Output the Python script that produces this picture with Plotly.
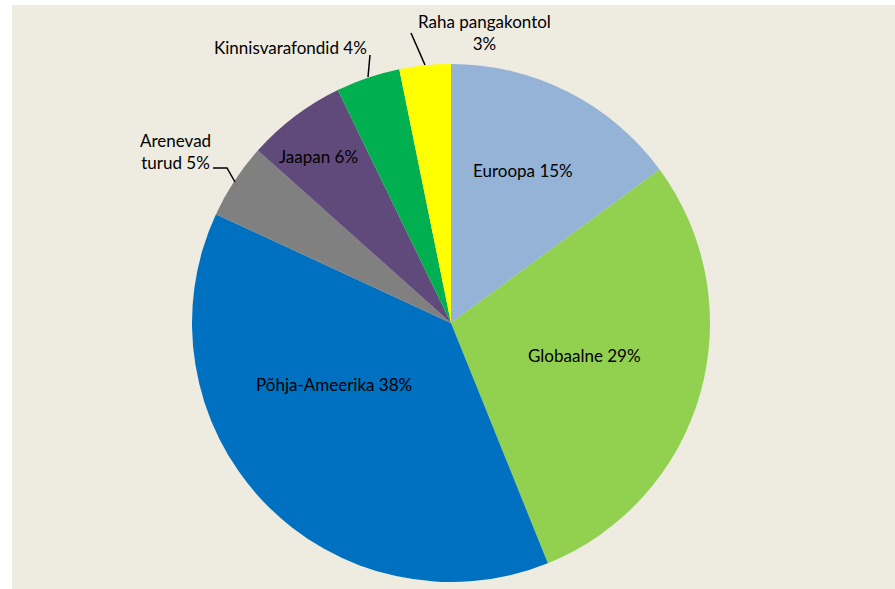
import plotly.graph_objects as go

labels = ["Euroopa", "Globaalne", "Põhja-Ameerika", "Arenevad turud", "Jaapan", "Kinnisvarafondid", "Raha pangakontol"]
values = [14.9, 29.0, 38.0, 4.7, 6.2, 4.0, 3.2]
pct_text = ["15%", "29%", "38%", "5%", "6%", "4%", "3%"]
colors = ["#95B3D7", "#92D050", "#0070C0", "#808080", "#604A7B", "#00B050", "#FFFF00"]

W, H = 895, 589
cx, cy, r = 451, 323, 259

def px(x):
    return x / W

def py(y):
    return 1 - y / H

fig = go.Figure(go.Pie(
    labels=labels, values=values, sort=False, direction="clockwise", rotation=0,
    marker=dict(colors=colors, line=dict(width=0)),
    textinfo="none", hoverinfo="label+percent", showlegend=False,
    domain=dict(x=[px(cx - r), px(cx + r)], y=[py(cy + r), py(cy - r)]),
))

font = dict(family="Lato, Open Sans, sans-serif", size=17, color="#000000")

# label placements (text, x, y)
label_pos = [
    (f"{labels[0]} {pct_text[0]}", 523, 170),
    (f"{labels[1]} {pct_text[1]}", 584, 355),
    (f"{labels[2]} {pct_text[2]}", 334, 385),
    ("Arenevad<br>turud " + pct_text[3], 175, 151),
    (f"{labels[4]} {pct_text[4]}", 318, 157),
    (f"{labels[5]} {pct_text[5]}", 290, 48),
    ("Raha pangakontol<br>" + pct_text[6], 484, 33),
]
annotations = []
for t, x, y in label_pos:
    annotations.append(dict(text=t, x=px(x), y=py(y), xref="paper", yref="paper",
                            showarrow=False, font=font, xanchor="center", yanchor="middle",
                            align="center"))

shapes = [
    dict(type="rect", xref="paper", yref="paper", x0=px(12), x1=1.0, y0=0, y1=py(5),
         fillcolor="#EEEBE0", line=dict(width=0), layer="below"),
    dict(type="path", xref="paper", yref="paper",
         path=f"M {px(213)} {py(168)} L {px(227)} {py(168)} L {px(235)} {py(182)}",
         line=dict(color="black", width=1.5)),
    dict(type="line", xref="paper", yref="paper", x0=px(370), y0=py(55), x1=px(368), y1=py(77),
         line=dict(color="black", width=1.5)),
    dict(type="line", xref="paper", yref="paper", x0=px(411), y0=py(33), x1=px(425), y1=py(65),
         line=dict(color="black", width=1.5)),
]

fig.update_layout(
    width=W, height=H, margin=dict(l=0, r=0, t=0, b=0),
    paper_bgcolor="#FFFFFF", plot_bgcolor="#FFFFFF",
    annotations=annotations, shapes=shapes,
)

fig.write_html("out.html", config={"displayModeBar": False},
               post_script="document.body.style.margin='0';document.body.style.overflow='hidden';")
